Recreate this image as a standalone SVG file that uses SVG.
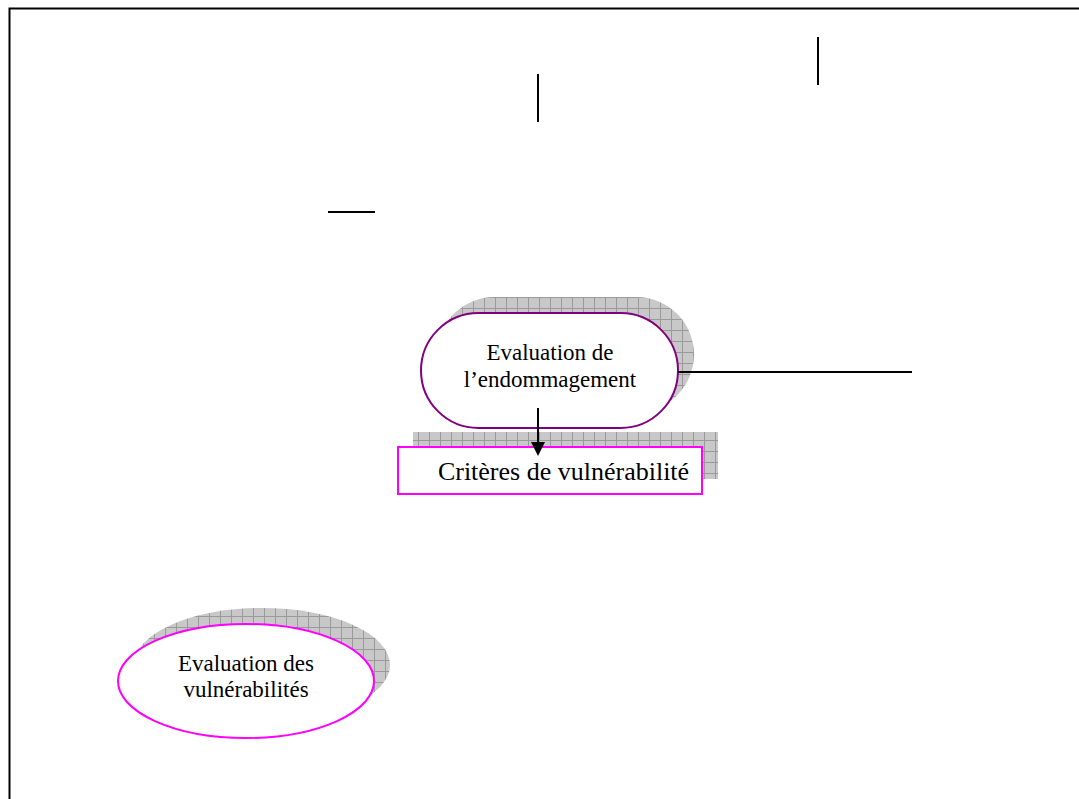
<svg xmlns="http://www.w3.org/2000/svg" width="1079" height="799" viewBox="0 0 1079 799">
<style>
.ln{stroke:#000;stroke-width:2;fill:none}
.sh{fill:url(#grid);stroke:none}
.t{font-family:"Liberation Serif",serif;font-size:23px;fill:#000;text-anchor:middle}
</style>
<defs>
<pattern id="grid" width="11" height="11" patternUnits="userSpaceOnUse">
<rect width="11" height="11" fill="#c8c8c8"/>
<path d="M0 0.5H11M0.5 0V11" stroke="#9a9a9a" stroke-width="1"/>
</pattern>
</defs>
<rect width="1079" height="799" fill="#fff"/>
<path d="M9.5 799V8.5H1079" stroke="#000" stroke-width="2" fill="none"/>
<g id="node-endommagement">
<rect class="sh" x="437" y="297" width="257" height="115" rx="57.5" ry="57.5"/>
<rect x="421" y="313" width="257" height="115" rx="57.5" ry="57.5" fill="#fff" stroke="#800080" stroke-width="2"/>
<text class="t" x="550" y="360">Evaluation de</text>
<text class="t" x="550" y="387">l’endommagement</text>
</g>
<g id="node-criteres">
<rect class="sh" x="413" y="432" width="305" height="47"/>
<rect x="398" y="447" width="304" height="47" fill="#fff" stroke="#ff00ff" stroke-width="2"/>
<text class="t" x="563.5" y="480" style="font-size:26px">Critères de vulnérabilité</text>
</g>
<g id="node-vulnerabilites">
<ellipse class="sh" cx="262" cy="665" rx="128" ry="57"/>
<ellipse cx="246" cy="681" rx="128" ry="57" fill="#fff" stroke="#ff00ff" stroke-width="2"/>
<text class="t" x="246" y="671">Evaluation des</text>
<text class="t" x="246" y="697">vulnérabilités</text>
</g>
<g id="connectors">
<line class="ln" x1="328" y1="212" x2="375" y2="212"/>
<line class="ln" x1="538" y1="74" x2="538" y2="122"/>
<line class="ln" x1="818" y1="37" x2="818" y2="85"/>
<line class="ln" x1="678" y1="372" x2="912" y2="372"/>
<line x1="538" y1="408" x2="538" y2="442" stroke="#000" stroke-width="2"/>
<path d="M531 442L545 442L538 456Z" fill="#000"/>
</g>
</svg>
